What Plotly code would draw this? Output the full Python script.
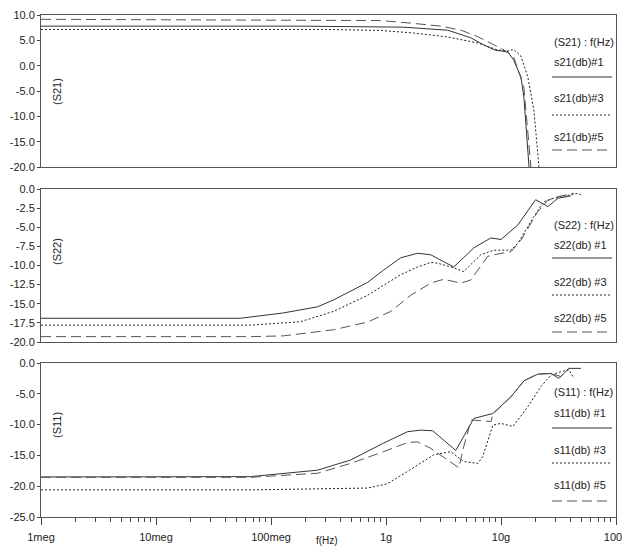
import plotly.graph_objects as go

# ---------------- data ----------------
# S21 (top panel)
s21_1_f = [1e6, 1.8e8, 1.42e9, 2.45e9, 3.44e9, 5.46e9, 7.08e9, 8.8e9, 11.5e9, 12.9e9, 14.9e9, 15.8e9, 17.1e9, 17.8e9]
s21_1_db = [7.8, 7.8, 7.6, 7.3, 7.0, 5.5, 4.1, 3.1, 2.7, 1.1, -2.2, -6.2, -18.0, -22.0]
s21_3_f = [1e6, 3.0e8, 8.98e8, 1.73e9, 3.44e9, 6.28e9, 9.38e9, 11.5e9, 12.9e9, 14.9e9, 17.1e9, 19.3e9, 21.4e9, 22.0e9]
s21_3_db = [7.15, 7.15, 6.95, 6.45, 5.66, 4.48, 3.1, 2.9, 3.2, 1.9, -2.2, -8.7, -20.0, -22.0]
s21_5_f = [1e6, 8.98e8, 1.64e9, 3.0e9, 4.5e9, 6.3e9, 7.7e9, 9.4e9, 10.6e9, 12.9e9, 15.8e9, 18.2e9, 18.6e9]
s21_5_db = [9.15, 8.9, 8.4, 7.8, 7.0, 5.7, 4.7, 3.7, 3.1, 1.7, -4.2, -20.0, -22.0]

# S22 (middle panel)
s22_1_f = [1e6, 5.4e7, 1.28e8, 2.54e8, 3.5e8, 4.92e8, 6.92e8, 9.53e8, 1.34e9, 1.88e9, 2.45e9, 3.88e9, 5.8e9, 8.15e9, 10e9, 14e9, 20e9, 25.6e9, 31.3e9, 40.6e9]
s22_1_db = [-16.9, -16.9, -16.2, -15.4, -14.5, -13.4, -12.2, -10.6, -9.0, -8.4, -8.6, -10.2, -7.7, -6.4, -6.6, -4.7, -1.4, -2.3, -1.2, -0.9]
s22_3_f = [1e6, 6.6e7, 1.8e8, 3.5e8, 6.92e8, 1.34e9, 1.88e9, 2.45e9, 2.81e9, 3.88e9, 4.74e9, 6.67e9, 8.65e9, 12.2e9, 14e9, 19.3e9, 23.6e9, 28.8e9, 46.7e9, 49.5e9]
s22_3_db = [-17.8, -17.8, -17.35, -16.0, -13.9, -11.2, -10.2, -9.6, -9.7, -10.3, -10.8, -8.6, -8.0, -8.0, -7.1, -3.6, -1.66, -1.2, -0.56, -0.78]
s22_5_f = [1e6, 6.6e7, 1.28e8, 3.5e8, 6.92e8, 1.1e9, 1.64e9, 2.45e9, 3.18e9, 4.47e9, 5.46e9, 7.67e9, 9.38e9, 12.2e9, 14.9e9, 20.9e9, 25.6e9, 31.3e9, 43.1e9]
s22_5_db = [-19.3, -19.3, -19.2, -18.4, -17.4, -16.0, -13.9, -12.3, -11.8, -12.3, -11.9, -8.8, -8.5, -8.2, -6.7, -2.96, -1.45, -1.0, -0.56]

# S11 (bottom panel)
s11_1_f = [1e6, 6.6e7, 2.54e8, 4.92e8, 9.53e8, 1.54e9, 2.0e9, 2.55e9, 4.04e9, 5.8e9, 8.49e9, 12.2e9, 15.8e9, 20.9e9, 27.2e9, 31.9e9, 39e9, 49.5e9]
s11_1_db = [-18.5, -18.45, -17.4, -15.75, -13.0, -11.15, -10.9, -11.0, -14.2, -9.0, -8.2, -5.5, -2.9, -1.8, -1.7, -2.5, -0.87, -0.87]
s11_3_f = [1e6, 6.6e7, 6.92e8, 1.03e9, 1.54e9, 2.45e9, 2.6e9, 3.66e9, 4.74e9, 6.28e9, 6.94e9, 8.49e9, 9.96e9, 12.7e9, 17.1e9, 22.2e9, 27.2e9, 33.2e9, 39e9, 43.1e9]
s11_3_db = [-20.6, -20.6, -20.3, -19.6, -17.6, -15.2, -14.9, -14.4, -16.0, -16.3, -15.2, -10.1, -9.8, -10.3, -7.1, -3.85, -1.95, -1.4, -1.1, -2.5]
s11_5_f = [1e6, 6.6e7, 2.54e8, 4.92e8, 9.53e8, 1.54e9, 1.88e9, 2.45e9, 4.3e9, 4.74e9, 5.5e9, 8.2e9, 8.5e9, 12.2e9, 15.8e9, 20.9e9, 27.2e9, 33.2e9, 39e9]
s11_5_db = [-18.56, -18.56, -17.9, -16.3, -14.4, -12.9, -12.8, -13.85, -17.0, -13.6, -9.25, -9.5, -8.3, -5.5, -2.9, -1.8, -1.7, -2.2, -0.87]

x_tickvals = [1e6, 1e7, 1e8, 1e9, 1e10, 1e11]
x_ticktext = ["1meg", "10meg", "100meg", "1g", "10g", "100g"]
y1_tickvals = [10, 5, 0, -5, -10, -15, -20]
y1_ticktext = ["10.0", "5.0", "0.0", "-5.0", "-10.0", "-15.0", "-20.0"]
y2_tickvals = [0, -2.5, -5, -7.5, -10, -12.5, -15, -17.5, -20]
y2_ticktext = ["0.0", "-2.5", "-5.0", "-7.5", "-10.0", "-12.5", "-15.0", "-17.5", "-20.0"]
y3_tickvals = [0, -5, -10, -15, -20, -25]
y3_ticktext = ["0.0", "-5.0", "-10.0", "-15.0", "-20.0", "-25.0"]

panel_titles = ["(S21)", "(S22)", "(S11)"]
legend_heads = ["(S21) : f(Hz)", "(S22) : f(Hz)", "(S11) : f(Hz)"]
legend_names = [["s21(db)#1", "s21(db)#3", "s21(db)#5"],
                ["s22(db) #1", "s22(db) #3", "s22(db) #5"],
                ["s11(db) #1", "s11(db) #3", "s11(db) #5"]]

# ---------------- layout helpers ----------------
# the page body adds an 8px margin, so the figure is drawn 8px smaller and
# all window-pixel positions are shifted by that offset
OFF = 8
W, H = 630 - OFF, 546 - OFF
L, R, T, B = 41 - OFF, 14, 15 - OFF, 29
PW, PH = W - L - R, H - T - B


def px(x):
    return (x - OFF - L) / PW


def py(y):
    return (H - B - (y - OFF)) / PH


FONT = "Liberation Sans, Arial, sans-serif"
TXT = "#222222"
styles = [dict(color="#333333", width=1, dash="solid"),
          dict(color="#222222", width=1, dash="2px,2px"),
          dict(color="#555555", width=1, dash="10px,5px")]

fig = go.Figure()
series = [
    [(s21_1_f, s21_1_db), (s21_3_f, s21_3_db), (s21_5_f, s21_5_db)],
    [(s22_1_f, s22_1_db), (s22_3_f, s22_3_db), (s22_5_f, s22_5_db)],
    [(s11_1_f, s11_1_db), (s11_3_f, s11_3_db), (s11_5_f, s11_5_db)],
]
for p, group in enumerate(series):
    for k, (f, d) in enumerate(group):
        fig.add_trace(go.Scatter(x=f, y=d, mode="lines", line=styles[k],
                                 xaxis="x" if p == 0 else f"x{p+1}",
                                 yaxis="y" if p == 0 else f"y{p+1}",
                                 showlegend=False, hoverinfo="skip"))

domains = [(py(167), py(15)), (py(342), py(189)), (py(517), py(363))]
yranges = [[-20, 10], [-20, 0], [-25, 0]]
ytv = [(y1_tickvals, y1_ticktext), (y2_tickvals, y2_ticktext), (y3_tickvals, y3_ticktext)]

minor_vals = [m * 10 ** e for e in range(6, 11) for m in range(2, 10)]

layout = dict(width=W, height=H, margin=dict(l=L, r=R, t=T, b=B, autoexpand=False),
              paper_bgcolor="white", plot_bgcolor="white",
              font=dict(family=FONT, size=11, color=TXT))
for p in range(3):
    xa = "xaxis" if p == 0 else f"xaxis{p+1}"
    ya = "yaxis" if p == 0 else f"yaxis{p+1}"
    yname = "y" if p == 0 else f"y{p+1}"
    bottom = p == 2
    layout[xa] = dict(type="log", range=[6, 11], domain=[0, 1], anchor=yname,
                      automargin=False, ticklabeloverflow="allow",
                      showline=True, mirror=True, linecolor="#555555", linewidth=1,
                      showgrid=False, zeroline=False,
                      tickvals=x_tickvals, ticktext=x_ticktext,
                      showticklabels=bottom, ticks="outside" if bottom else "",
                      ticklen=7, tickcolor="#444444", ticklabelstandoff=3,
                      minor=dict(tickvals=minor_vals, ticks="outside" if bottom else "",
                                 ticklen=4, tickcolor="#444444", showgrid=False))
    layout[ya] = dict(range=yranges[p], domain=list(domains[p]),
                      anchor="x" if p == 0 else f"x{p+1}",
                      automargin=False, ticklabeloverflow="allow",
                      showline=True, mirror=True, linecolor="#555555", linewidth=1,
                      showgrid=False, zeroline=False,
                      tickvals=ytv[p][0], ticktext=ytv[p][1],
                      ticks="outside", ticklen=3, tickcolor="#444444")
fig.update_layout(**layout)

annotations = []
shapes = []
title_y = [92, 252, 425]
head_y = [42, 225, 392]
name_y = [[62, 98, 137], [245, 282, 318], [413, 450, 485]]
line_y = [[77, 115, 150], [258, 295, 332], [428, 463, 501]]


def label(text, x, y, xanchor="left", angle=0, size=11):
    return dict(text=text, x=px(x), y=py(y), xref="paper", yref="paper",
                xanchor=xanchor, yanchor="middle", showarrow=False, textangle=angle,
                font=dict(size=size, family=FONT, color=TXT))


for p in range(3):
    annotations.append(label(panel_titles[p], 57, title_y[p], xanchor="center", angle=-90))
    annotations.append(label(legend_heads[p], 552, head_y[p]))
    for k in range(3):
        annotations.append(label(legend_names[p][k], 552, name_y[p][k]))
        shapes.append(dict(type="line", xref="paper", yref="paper", x0=px(552), x1=px(612),
                           y0=py(line_y[p][k]), y1=py(line_y[p][k]), line=styles[k]))
annotations.append(label("f(Hz)", 327, 540, xanchor="center", size=10))
fig.update_layout(annotations=annotations, shapes=shapes)

fig.write_html("out.html")
